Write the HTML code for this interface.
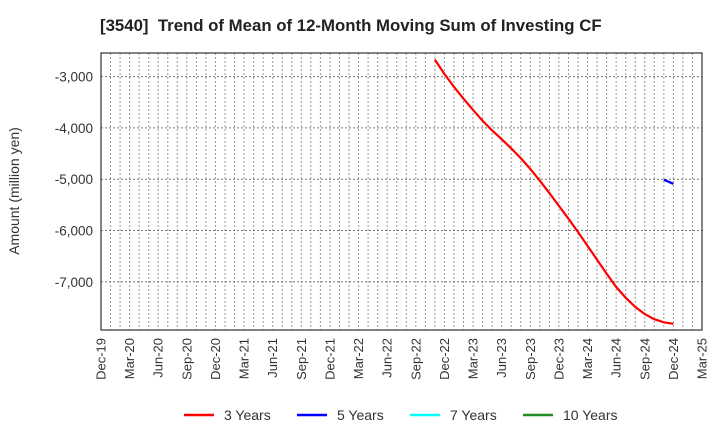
<!DOCTYPE html>
<html><head><meta charset="utf-8"><style>
body{margin:0;background:#fff;}
svg text{font-family:"Liberation Sans",sans-serif;}
</style></head><body>
<svg id="c" width="720" height="440" xmlns="http://www.w3.org/2000/svg">
<text x="100" y="31" font-size="16.8" font-weight="bold" fill="#222" xml:space="preserve">[3540]  Trend of Mean of 12-Month Moving Sum of Investing CF</text>
<text transform="translate(19,191) rotate(-90)" text-anchor="middle" font-size="14" fill="#333">Amount (million yen)</text>
<g id="grid"></g><g id="series"></g><g id="axes"></g>
<g>
<line x1="184" y1="415" x2="214" y2="415" stroke="#ff0000" stroke-width="2.5"/><text x="224" y="420" font-size="14" fill="#333">3 Years</text>
<line x1="297" y1="415" x2="327" y2="415" stroke="#0000ff" stroke-width="2.5"/><text x="337" y="420" font-size="14" fill="#333">5 Years</text>
<line x1="410" y1="415" x2="440" y2="415" stroke="#00ffff" stroke-width="2.5"/><text x="450" y="420" font-size="14" fill="#333">7 Years</text>
<line x1="523" y1="415" x2="553" y2="415" stroke="#228b22" stroke-width="2.5"/><text x="563" y="420" font-size="14" fill="#333">10 Years</text>
</g>
</svg>
<script>
const xTickLabels=["Dec-19","Mar-20","Jun-20","Sep-20","Dec-20","Mar-21","Jun-21","Sep-21","Dec-21","Mar-22","Jun-22","Sep-22","Dec-22","Mar-23","Jun-23","Sep-23","Dec-23","Mar-24","Jun-24","Sep-24","Dec-24","Mar-25"];
const yTicks=[-3000,-4000,-5000,-6000,-7000];
const series3Start=35;
const series3=[-2670,-2950,-3200,-3430,-3650,-3860,-4050,-4220,-4400,-4590,-4800,-5030,-5270,-5520,-5770,-6030,-6300,-6570,-6840,-7100,-7310,-7490,-7630,-7730,-7790,-7820];
const series5Start=59;
const series5=[-5010,-5090];
const L=101,R=702,T=53,B=330,NM=63,YMIN=-7940,YMAX=-2540;
const xs=m=>L+(R-L)*m/NM;
const ys=v=>B-(v-YMIN)/(YMAX-YMIN)*(B-T);
const NS="http://www.w3.org/2000/svg";
function mk(p,t,a){const e=document.createElementNS(NS,t);for(const k in a)e.setAttribute(k,a[k]);p.appendChild(e);return e;}
const g=document.getElementById('grid'),ax=document.getElementById('axes'),sg=document.getElementById('series');
mk(g,'rect',{x:L,y:T,width:R-L,height:B-T,fill:'#fff'});
for(let m=1;m<NM;m++){const l=mk(g,'line',{x1:xs(m),x2:xs(m),y1:T,y2:B,stroke:'#999','stroke-dasharray':'2,2','stroke-width':1});

}
yTicks.forEach(v=>{const l=mk(g,'line',{x1:L,x2:R,y1:ys(v),y2:ys(v),stroke:'#777','stroke-dasharray':'2,2','stroke-width':1});


const t=mk(ax,'text',{x:L-8,y:ys(v)+5,'text-anchor':'end','font-size':13.5,fill:'#333'});t.textContent=v.toLocaleString('en-US');

});
xTickLabels.forEach((s,i)=>{const x=xs(i*3);const t=mk(ax,'text',{transform:`translate(${x+4.5},338) rotate(-90)`,'text-anchor':'end','font-size':13,fill:'#333'});t.textContent=s;

});
const fr=mk(ax,'rect',{x:L,y:T,width:R-L,height:B-T,fill:'none',stroke:'#333','stroke-width':1.2});


function line(arr,start,col,name){const p=mk(sg,'polyline',{points:arr.map((v,i)=>xs(start+i)+','+ys(v)).join(' '),fill:'none',stroke:col,'stroke-width':2.2});

}
line(series3,series3Start,'#ff0000','series-3-years');
line(series5,series5Start,'#0000ff','series-5-years');
</script>
</body></html>
